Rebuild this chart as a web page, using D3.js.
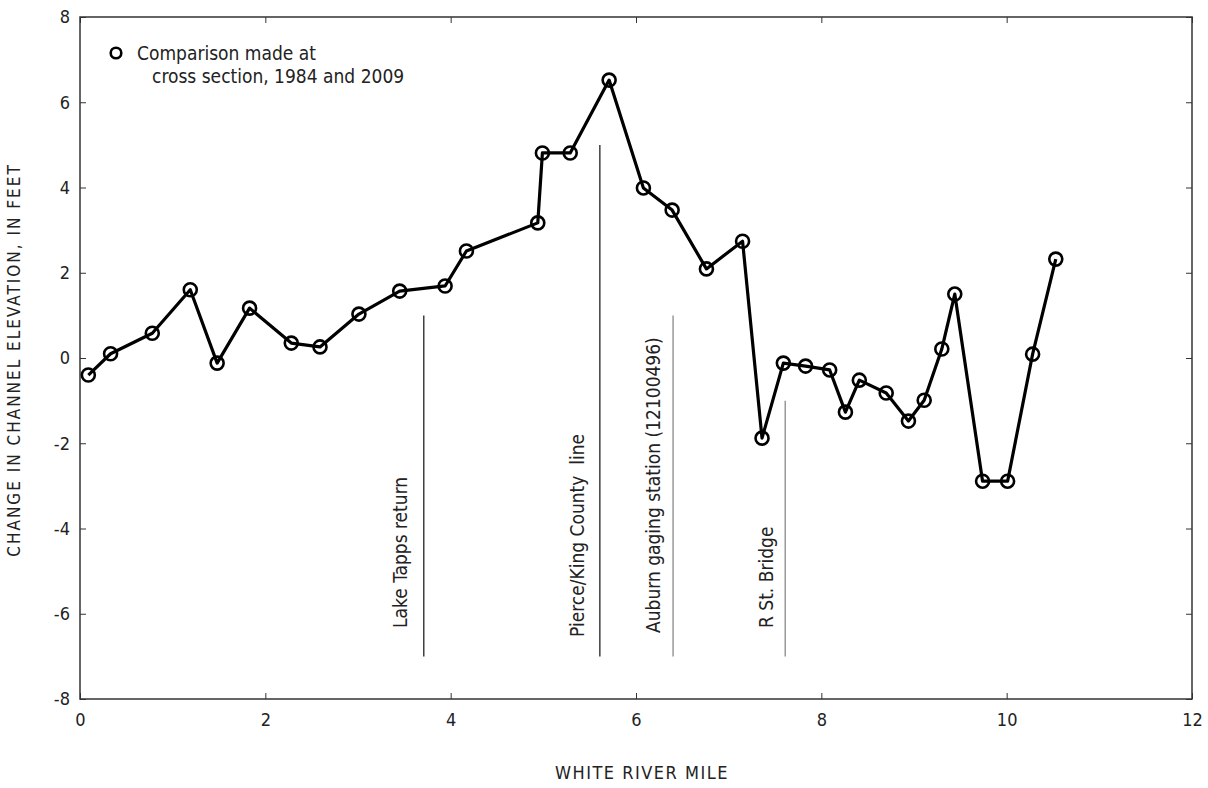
<!DOCTYPE html>
<html>
<head>
<meta charset="utf-8">
<script src="https://cdn.jsdelivr.net/npm/d3@7"></script>
<style>
  body { margin: 0; background: #fff; }
  svg text { font-family: "Liberation Sans Narrow", "DejaVu Sans Condensed", "Roboto", sans-serif; fill: #222; }
</style>
</head>
<body>
<div id="chart"></div>
<script>
// river mile of each cross section
var riverMile = [0.09, 0.33, 0.78, 1.19, 1.48, 1.83, 2.28, 2.59, 3.01, 3.45, 3.94, 4.17,
  4.94, 4.99, 5.29, 5.71, 6.08, 6.39, 6.76, 7.15, 7.36, 7.59, 7.83, 8.09, 8.26, 8.41,
  8.70, 8.94, 9.11, 9.30, 9.44, 9.74, 10.01, 10.28, 10.53];
// change in channel elevation, feet (1984 to 2009)
var elevChange = [-0.40, 0.10, 0.58, 1.60, -0.12, 1.17, 0.35, 0.26, 1.03, 1.57, 1.69, 2.51,
  3.17, 4.81, 4.81, 6.52, 3.99, 3.47, 2.09, 2.74, -1.88, -0.12, -0.19, -0.28, -1.27, -0.52,
  -0.82, -1.48, -0.99, 0.21, 1.50, -2.89, -2.89, 0.09, 2.32];

// landmarks along the river
var landmarkNames = ["Lake Tapps return", "Pierce/King County  line", "Auburn gaging station (12100496)", "R St. Bridge"];
var landmarkMile = [3.71, 5.61, 6.40, 7.61];
var landmarkTop = [1.0, 5.0, 1.0, -1.0];
var landmarkBottom = -7.0;
var landmarkGray = [false, false, true, true];

var xTicks = [0, 2, 4, 6, 8, 10, 12];
var yTicks = [-8, -6, -4, -2, 0, 2, 4, 6, 8];

var W = 1208, H = 788;
var margin = {top: 17, right: 16, bottom: 89, left: 80};
var width = W - margin.left - margin.right;
var height = H - margin.top - margin.bottom;

var svg = d3.select("#chart").append("svg")
  .attr("width", W)
  .attr("height", H)
  .append("g")
  .attr("transform", "translate(" + margin.left + "," + margin.top + ")");

var x = d3.scaleLinear().domain([0, 12]).range([0, width]);
var y = d3.scaleLinear().domain([-8, 8]).range([height, 0]);

var plain = function (d) { return String(d); }; // keep hyphen for negatives

// axes with inward ticks on all four sides
function styleAxis(g) {
  g.select(".domain").remove();
  g.selectAll(".tick line").attr("stroke", "#333").attr("stroke-width", 1);
  g.selectAll(".tick text").style("font-size", "18px").attr("fill", "#222");
}

svg.append("g")
  .attr("transform", "translate(0," + height + ")")
  .call(d3.axisBottom(x).tickValues(xTicks).tickFormat(plain).tickSizeInner(-6).tickSizeOuter(0).tickPadding(14))
  .call(styleAxis);

svg.append("g")
  .call(d3.axisTop(x).tickValues(xTicks).tickSizeInner(-6).tickSizeOuter(0).tickFormat(""))
  .call(styleAxis);

svg.append("g")
  .call(d3.axisLeft(y).tickValues(yTicks).tickFormat(plain).tickSizeInner(-6).tickSizeOuter(0).tickPadding(10))
  .call(styleAxis);

svg.append("g")
  .attr("transform", "translate(" + width + ",0)")
  .call(d3.axisRight(y).tickValues(yTicks).tickSizeInner(-6).tickSizeOuter(0).tickFormat(""))
  .call(styleAxis);

// frame
svg.append("rect")
  .attr("width", width)
  .attr("height", height)
  .attr("fill", "none")
  .attr("stroke", "#333")
  .attr("stroke-width", 1.5);

// landmark lines + labels
var marks = landmarkNames.map(function (n, i) {
  return {name: n, mile: landmarkMile[i], top: landmarkTop[i], gray: landmarkGray[i]};
});

svg.selectAll(".landmark")
  .data(marks)
  .enter()
  .append("line")
  .attr("class", "landmark")
  .attr("x1", function (d) { return x(d.mile); })
  .attr("x2", function (d) { return x(d.mile); })
  .attr("y1", function (d) { return y(d.top); })
  .attr("y2", y(landmarkBottom))
  .attr("stroke", function (d) { return d.gray ? "#8a8a8a" : "#222"; })
  .attr("stroke-width", 1.3);

var labelBottom = [611, 620, 616, 611];
var labelOffset = [-17, -16, -13, -12];
svg.selectAll(".landmark-label")
  .data(marks)
  .enter()
  .append("text")
  .attr("class", "landmark-label")
  .attr("transform", function (d, i) {
    return "translate(" + (x(d.mile) + labelOffset[i]) + "," + labelBottom[i] + ") rotate(-90)";
  })
  .style("font-size", "19px")
  .style("white-space", "pre")
  .text(function (d) { return d.name; });

// data line
var pts = riverMile.map(function (m, i) { return [m, elevChange[i]]; });

svg.append("path")
  .datum(pts)
  .attr("fill", "none")
  .attr("stroke", "#000")
  .attr("stroke-width", 3.2)
  .attr("stroke-linejoin", "round")
  .attr("d", d3.line().x(function (d) { return x(d[0]); }).y(function (d) { return y(d[1]); }));

svg.selectAll(".pt")
  .data(pts)
  .enter()
  .append("circle")
  .attr("class", "pt")
  .attr("cx", function (d) { return x(d[0]); })
  .attr("cy", function (d) { return y(d[1]); })
  .attr("r", 6.5)
  .attr("fill", "none")
  .attr("stroke", "#000")
  .attr("stroke-width", 2.6);

// legend
svg.append("circle")
  .attr("cx", 36).attr("cy", 36).attr("r", 5.3)
  .attr("fill", "none").attr("stroke", "#000").attr("stroke-width", 2.6);
svg.append("text").attr("x", 57).attr("y", 43).style("font-size", "19px").text("Comparison made at");
svg.append("text").attr("x", 72).attr("y", 66).style("font-size", "19px").text("cross section, 1984 and 2009");

// axis titles
svg.append("text")
  .attr("x", width / 2 + 6)
  .attr("y", height + 80)
  .attr("text-anchor", "middle")
  .style("font-size", "18px")
  .style("letter-spacing", "1.5px")
  .text("WHITE RIVER MILE");

svg.append("text")
  .attr("transform", "translate(" + (-60) + "," + (height / 2 + 2) + ") rotate(-90)")
  .attr("text-anchor", "middle")
  .style("font-size", "17px")
  .style("letter-spacing", "2px")
  .text("CHANGE IN CHANNEL ELEVATION, IN FEET");
</script>
</body>
</html>
